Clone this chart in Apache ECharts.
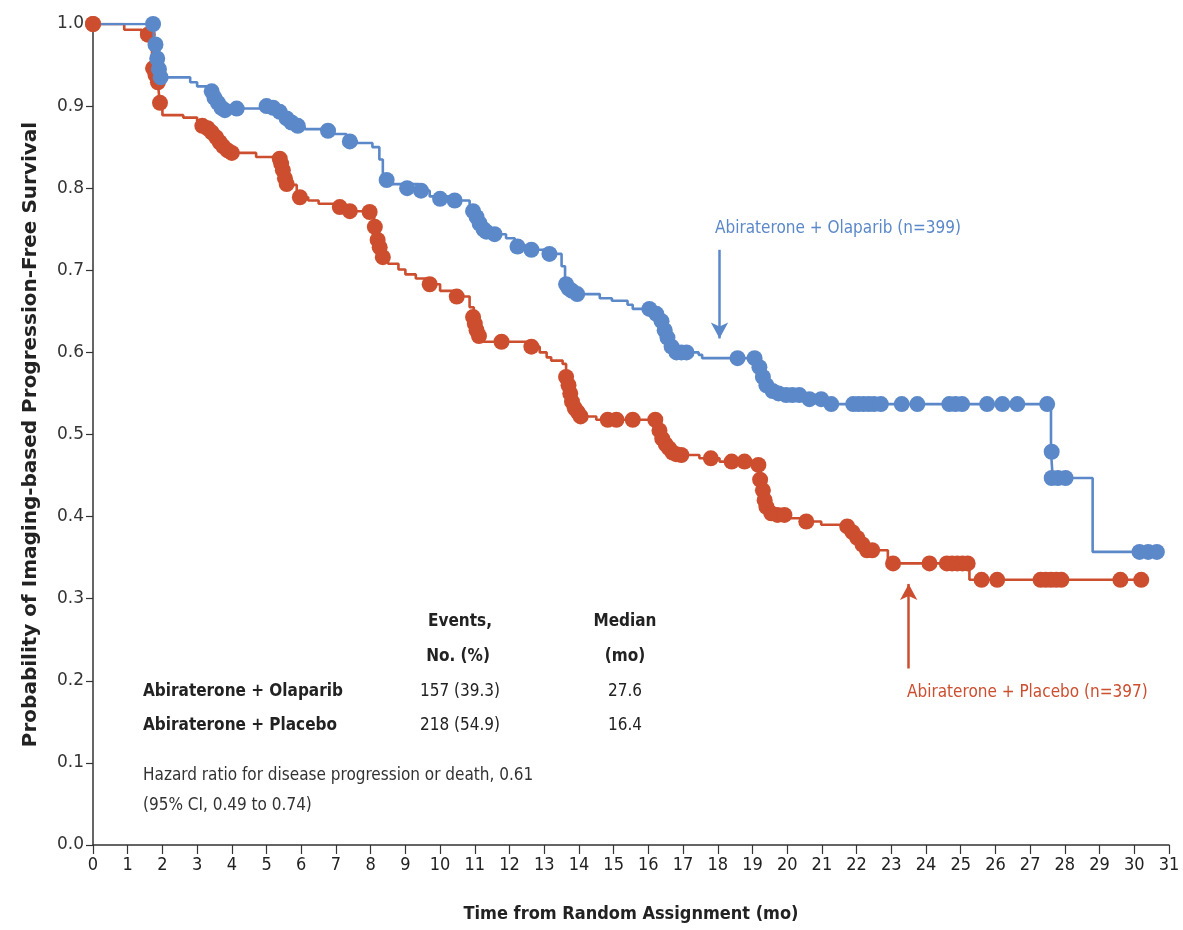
<!DOCTYPE html>
<html>
<head>
<meta charset="utf-8">
<script src="https://cdn.jsdelivr.net/npm/echarts@6/dist/echarts.min.js"></script>
<style>
html,body{margin:0;padding:0;background:#fff;}
#chart{width:1183px;height:930px;}
</style>
</head>
<body>
<div id="chart"></div>
<script>
// ---- Data ----
const xTicks = [0,1,2,3,4,5,6,7,8,9,10,11,12,13,14,15,16,17,18,19,20,21,22,23,24,25,26,27,28,29,30,31];
const yTicks = [0.0,0.1,0.2,0.3,0.4,0.5,0.6,0.7,0.8,0.9,1.0];

// Abiraterone + Olaparib: step curve [month, survival]
const olaparibCurve = [
[0,1.0],[1.75,0.975],[1.8,0.958],[1.88,0.945],[1.95,0.935],[2.8,0.929],[3.0,0.924],[3.42,0.918],[3.5,0.91],
[3.65,0.902],[3.8,0.897],[5.3,0.892],[5.5,0.886],[5.65,0.88],[5.85,0.875],[6.1,0.872],[6.95,0.866],[7.3,0.858],
[7.6,0.855],[8.05,0.85],[8.25,0.835],[8.35,0.815],[8.6,0.805],[9.4,0.797],[9.7,0.79],[10.3,0.785],[10.85,0.774],
[11.05,0.765],[11.15,0.756],[11.3,0.748],[11.5,0.744],[11.9,0.739],[12.15,0.73],[12.6,0.725],[13.0,0.72],
[13.5,0.705],[13.6,0.685],[13.75,0.677],[13.95,0.671],[14.6,0.666],[14.95,0.663],[15.4,0.658],[15.55,0.653],
[16.2,0.647],[16.35,0.638],[16.45,0.627],[16.55,0.618],[16.65,0.608],[16.8,0.6],[17.45,0.597],[17.55,0.593],
[19.1,0.585],[19.2,0.575],[19.3,0.565],[19.4,0.558],[19.55,0.553],[19.9,0.548],[20.6,0.543],[21.25,0.537],
[27.6,0.479],[27.65,0.447],[28.8,0.357],[30.7,0.357]
];
// Abiraterone + Olaparib: censor marks
const olaparibCensor = [
[1.73,1.0],[1.8,0.975],[1.85,0.958],[1.9,0.945],[1.95,0.935],[3.42,0.918],[3.5,0.91],[3.6,0.904],[3.7,0.898],
[3.8,0.895],[4.14,0.897],[5.0,0.9],[5.19,0.898],[5.38,0.893],[5.58,0.885],[5.72,0.88],[5.9,0.876],[6.77,0.87],
[7.4,0.857],[8.46,0.81],[9.05,0.8],[9.45,0.797],[10.0,0.787],[10.42,0.785],[10.95,0.772],[11.05,0.765],
[11.14,0.757],[11.25,0.75],[11.33,0.747],[11.57,0.744],[12.23,0.729],[12.63,0.725],[13.15,0.72],[13.63,0.683],
[13.7,0.678],[13.8,0.675],[13.95,0.671],[16.03,0.653],[16.23,0.647],[16.38,0.638],[16.47,0.627],[16.55,0.618],
[16.67,0.607],[16.81,0.6],[16.95,0.6],[17.1,0.6],[18.57,0.593],[19.06,0.593],[19.2,0.582],[19.3,0.57],
[19.4,0.56],[19.58,0.553],[19.75,0.55],[19.97,0.548],[20.15,0.548],[20.35,0.548],[20.64,0.543],[20.98,0.543],
[21.27,0.537],[21.9,0.537],[22.05,0.537],[22.2,0.537],[22.35,0.537],[22.5,0.537],[22.7,0.537],[23.3,0.537],
[23.75,0.537],[24.67,0.537],[24.85,0.537],[25.04,0.537],[25.76,0.537],[26.2,0.537],[26.63,0.537],[27.49,0.537],
[27.62,0.479],[27.62,0.447],[27.8,0.447],[28.02,0.447],[30.15,0.357],[30.4,0.357],[30.65,0.357]
];

// Abiraterone + Placebo: step curve
const placeboCurve = [
[0,1.0],[0.9,0.993],[1.4,0.988],[1.7,0.95],[1.8,0.938],[1.87,0.929],[1.92,0.905],[2.0,0.889],[2.6,0.886],
[3.0,0.882],[3.15,0.876],[3.3,0.872],[3.4,0.867],[3.55,0.861],[3.65,0.856],[3.75,0.851],[3.9,0.846],[4.0,0.843],
[4.7,0.838],[5.4,0.831],[5.47,0.822],[5.53,0.812],[5.58,0.804],[5.87,0.795],[5.96,0.789],[6.2,0.785],[6.5,0.781],
[7.1,0.777],[7.4,0.772],[8.1,0.753],[8.2,0.737],[8.26,0.728],[8.35,0.716],[8.5,0.708],[8.8,0.701],[9.0,0.695],
[9.3,0.69],[9.7,0.683],[10.0,0.675],[10.45,0.668],[10.85,0.655],[10.97,0.641],[11.06,0.628],[11.14,0.619],
[11.25,0.613],[12.6,0.607],[12.87,0.6],[13.07,0.594],[13.2,0.59],[13.53,0.586],[13.63,0.57],[13.72,0.558],
[13.79,0.549],[13.85,0.538],[13.97,0.528],[14.16,0.522],[14.5,0.518],[16.3,0.503],[16.45,0.492],[16.6,0.484],
[16.75,0.478],[16.95,0.475],[17.47,0.471],[18.05,0.467],[19.15,0.462],[19.2,0.445],[19.3,0.432],[19.34,0.42],
[19.4,0.412],[19.54,0.404],[19.7,0.402],[20.06,0.398],[20.5,0.394],[20.98,0.39],[21.85,0.382],[22.0,0.374],
[22.15,0.366],[22.3,0.359],[22.9,0.343],[25.25,0.323],[30.2,0.323]
];
// Abiraterone + Placebo: censor marks
const placeboCensor = [
[0,1.0],[1.58,0.987],[1.73,0.946],[1.8,0.938],[1.87,0.929],[1.93,0.904],[3.15,0.876],[3.3,0.873],[3.42,0.868],
[3.55,0.862],[3.65,0.856],[3.75,0.851],[3.88,0.846],[4.0,0.843],[5.38,0.836],[5.42,0.83],[5.47,0.822],
[5.53,0.812],[5.58,0.805],[5.96,0.789],[7.11,0.777],[7.4,0.772],[7.97,0.771],[8.12,0.753],[8.2,0.737],
[8.26,0.728],[8.35,0.716],[9.7,0.683],[10.48,0.668],[10.95,0.643],[11.0,0.635],[11.05,0.627],[11.12,0.62],
[11.77,0.613],[12.63,0.607],[13.63,0.57],[13.7,0.56],[13.75,0.55],[13.8,0.54],[13.88,0.532],[13.97,0.527],
[14.05,0.522],[14.83,0.518],[15.08,0.518],[15.55,0.518],[16.2,0.518],[16.32,0.505],[16.4,0.495],[16.5,0.488],
[16.6,0.483],[16.7,0.478],[16.8,0.476],[16.95,0.475],[17.8,0.471],[18.4,0.467],[18.77,0.467],[19.17,0.463],
[19.22,0.445],[19.3,0.432],[19.35,0.42],[19.4,0.412],[19.54,0.404],[19.72,0.402],[19.92,0.402],[20.55,0.394],
[21.73,0.388],[21.88,0.381],[22.02,0.374],[22.17,0.366],[22.3,0.359],[22.45,0.359],[23.05,0.343],[24.1,0.343],
[24.6,0.343],[24.75,0.343],[24.9,0.343],[25.05,0.343],[25.2,0.343],[25.6,0.323],[26.05,0.323],[27.3,0.323],
[27.45,0.323],[27.6,0.323],[27.75,0.323],[27.9,0.323],[29.6,0.323],[30.2,0.323]
];

// Arrow annotations [x, yFrom, yTo]
const olaparibArrow = [18.05, 0.725, 0.617];
const placeboArrow = [23.5, 0.215, 0.318];

// Summary table
const armNames = ['Abiraterone + Olaparib', 'Abiraterone + Placebo'];
const armEvents = ['157 (39.3)', '218 (54.9)'];
const armMedians = ['27.6', '16.4'];
const hazardText = ['Hazard ratio for disease progression or death, 0.61', '(95% CI, 0.49 to 0.74)'];
const curveLabels = ['Abiraterone + Olaparib (n=399)', 'Abiraterone + Placebo (n=397)'];

// ---- Chart ----
const BLUE = '#5b88c8';
const RED = '#cc4e2e';
const AXIS = '#333333';
const NARROW = "'DejaVu Sans Condensed', 'Liberation Sans Narrow', sans-serif";
const chart = echarts.init(document.getElementById('chart'));

const S = (t, extra) => Object.assign({ text: t, fill: '#222', font: '17px ' + NARROW, textAlign: 'center', textVerticalAlign: 'middle' }, extra || {});

const graphics = [
  { type: 'text', x: 715, y: 229, style: S(curveLabels[0], { fill: BLUE, textAlign: 'left' }) },
  { type: 'text', x: 907, y: 693, style: S(curveLabels[1], { fill: RED, textAlign: 'left' }) },
  { type: 'text', x: 460, y: 622, style: S('Events,', { font: 'bold 17px ' + NARROW }) },
  { type: 'text', x: 458, y: 657, style: S('No. (%)', { font: 'bold 17px ' + NARROW }) },
  { type: 'text', x: 625, y: 622, style: S('Median', { font: 'bold 17px ' + NARROW }) },
  { type: 'text', x: 625, y: 657, style: S('(mo)', { font: 'bold 17px ' + NARROW }) },
  { type: 'text', x: 143, y: 692, style: S(armNames[0], { font: 'bold 17px ' + NARROW, textAlign: 'left' }) },
  { type: 'text', x: 143, y: 726, style: S(armNames[1], { font: 'bold 17px ' + NARROW, textAlign: 'left' }) },
  { type: 'text', x: 460, y: 692, style: S(armEvents[0]) },
  { type: 'text', x: 460, y: 726, style: S(armEvents[1]) },
  { type: 'text', x: 625, y: 692, style: S(armMedians[0]) },
  { type: 'text', x: 625, y: 726, style: S(armMedians[1]) },
  { type: 'text', x: 143, y: 776, style: S(hazardText[0], { textAlign: 'left', fill: '#333' }) },
  { type: 'text', x: 143, y: 806, style: S(hazardText[1], { textAlign: 'left', fill: '#333' }) }
];

function arrowLine(a) {
  return [[{ coord: [a[0], a[1]] }, { coord: [a[0], a[2]] }]];
}

chart.setOption({
  animation: false,
  backgroundColor: '#fff',
  grid: { left: 93, right: 14, top: 24, bottom: 85, containLabel: false },
  xAxis: {
    type: 'value', min: 0, max: 31, interval: 1,
    name: 'Time from Random Assignment (mo)', nameLocation: 'middle', nameGap: 60,
    nameTextStyle: { fontFamily: NARROW, fontWeight: 'bold', fontSize: 18, color: '#222' },
    axisLine: { show: true, onZero: false, lineStyle: { color: AXIS, width: 1.5 } },
    axisTick: { show: true, length: 9, lineStyle: { color: AXIS, width: 1.2 } },
    axisLabel: { fontFamily: NARROW, fontSize: 18, color: '#222', margin: 11,
                 formatter: v => String(xTicks[Math.round(v)]) },
    splitLine: { show: false }
  },
  yAxis: {
    type: 'value', min: 0, max: 1, interval: 0.1,
    name: 'Probability of Imaging-based Progression-Free Survival', nameLocation: 'middle', nameGap: 52,
    nameTextStyle: { fontFamily: "'DejaVu Sans', sans-serif", fontWeight: 'bold', fontSize: 20, color: '#222' },
    axisLine: { show: true, lineStyle: { color: AXIS, width: 1.5 } },
    axisTick: { show: true, length: 7, lineStyle: { color: AXIS, width: 1.2 } },
    axisLabel: { fontFamily: "'DejaVu Sans', sans-serif", fontSize: 17, color: '#333', margin: 9,
                 formatter: v => yTicks[Math.round(v * 10)].toFixed(1) },
    splitLine: { show: false }
  },
  graphic: graphics,
  series: [
    { name: 'Placebo', type: 'line', step: 'end', data: placeboCurve, showSymbol: false, symbol: 'none',
      lineStyle: { color: RED, width: 2.6 }, z: 2,
      markLine: { silent: true, symbol: ['none', 'arrow'], symbolSize: [13, 16], label: { show: false },
                  lineStyle: { color: RED, width: 2.5, type: 'solid' }, data: arrowLine(placeboArrow) } },
    { name: 'Placebo censored', type: 'scatter', data: placeboCensor, symbol: 'circle', symbolSize: 16,
      itemStyle: { color: RED, opacity: 1 }, clip: false, z: 3 },
    { name: 'Olaparib', type: 'line', step: 'end', data: olaparibCurve, showSymbol: false, symbol: 'none',
      lineStyle: { color: BLUE, width: 2.6 }, z: 4,
      markLine: { silent: true, symbol: ['none', 'arrow'], symbolSize: [13, 16], label: { show: false },
                  lineStyle: { color: BLUE, width: 2.5, type: 'solid' }, data: arrowLine(olaparibArrow) } },
    { name: 'Olaparib censored', type: 'scatter', data: olaparibCensor, symbol: 'circle', symbolSize: 16,
      itemStyle: { color: BLUE, opacity: 1 }, clip: false, z: 5 },
    { name: 'Placebo origin', type: 'scatter', data: [placeboCensor[0]], symbol: 'circle', symbolSize: 16,
      itemStyle: { color: RED, opacity: 1 }, clip: false, z: 6 }
  ]
});
</script>
</body>
</html>
